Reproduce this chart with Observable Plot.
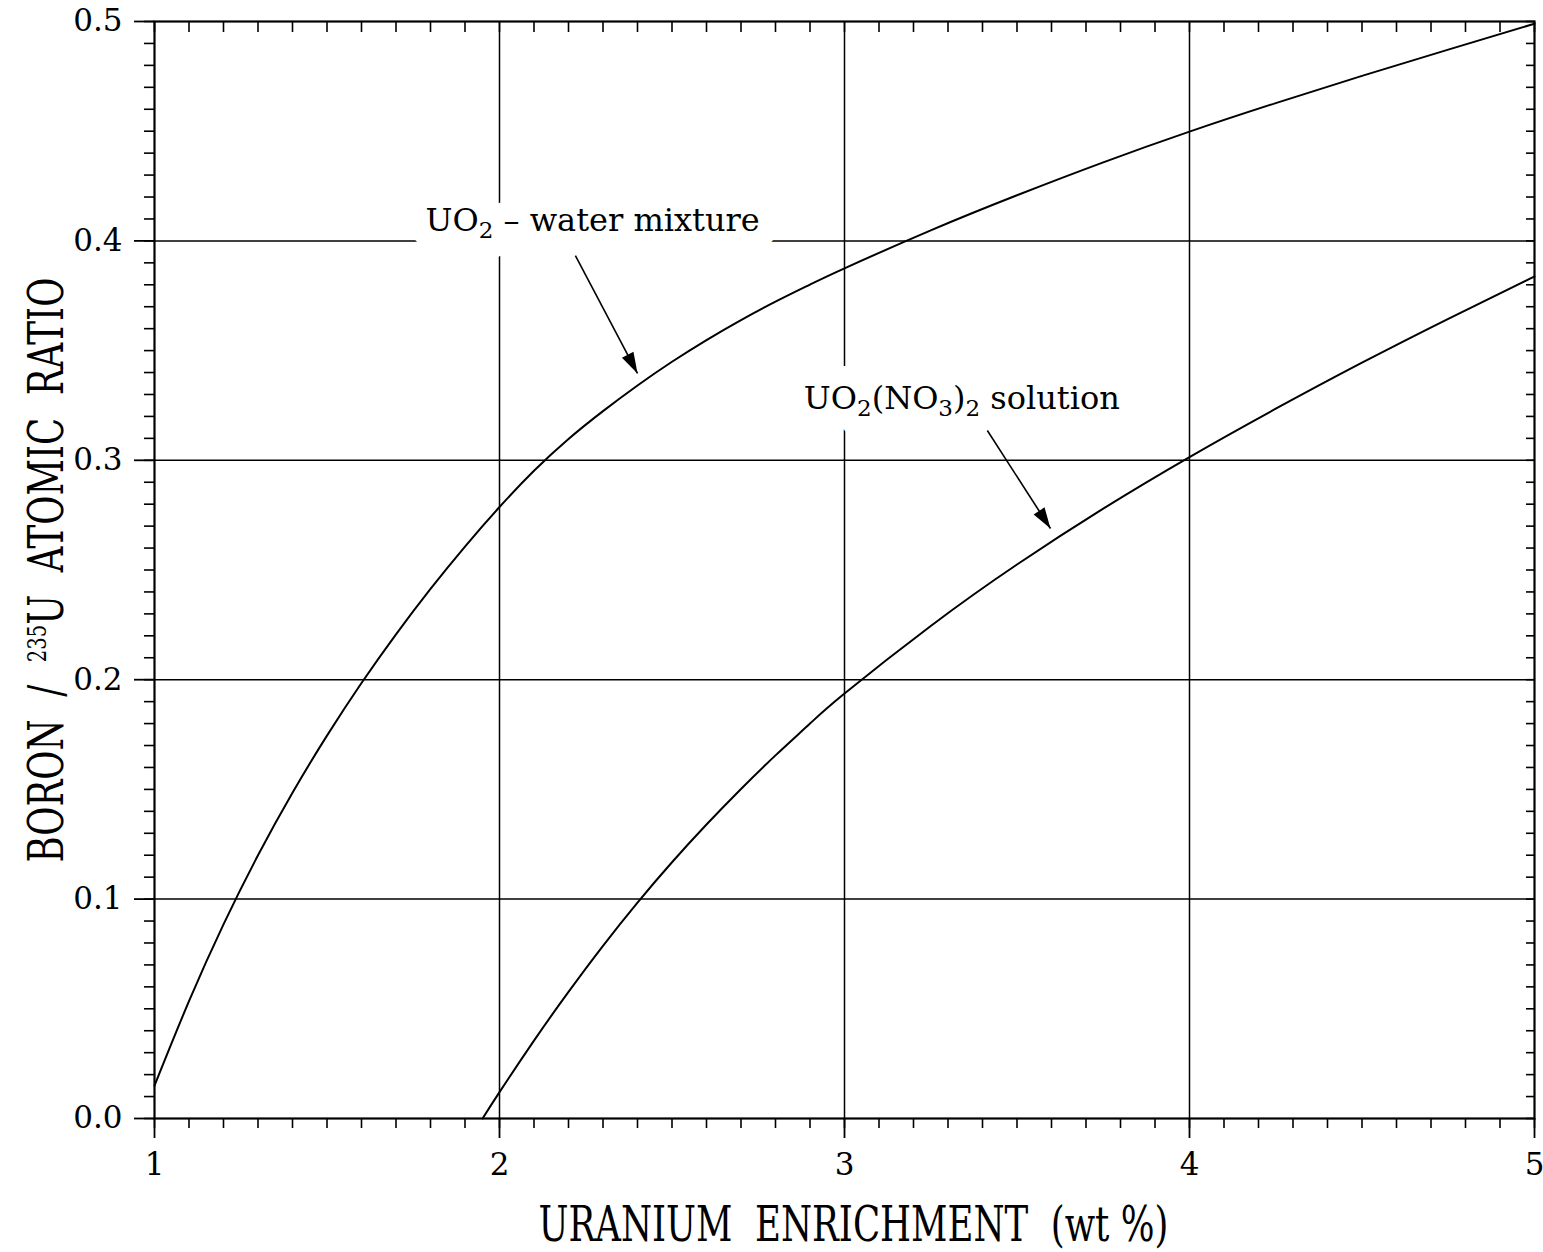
<!DOCTYPE html>
<html><head><meta charset="utf-8">
<script src="https://cdn.jsdelivr.net/npm/d3@7"></script>
<script src="https://cdn.jsdelivr.net/npm/@observablehq/plot@0.6"></script>
<style>body{margin:0;background:#fff} svg{display:block}</style>
</head><body><div id="chart"></div>
<script>
// ---- data ----
const waterX = [1.0, 1.1, 1.2, 1.3, 1.4, 1.5, 1.6, 1.7, 1.8, 1.9, 2.0, 2.1, 2.2, 2.3, 2.4, 2.5, 2.6, 2.7, 2.8, 2.9, 3.0, 3.25, 3.5, 3.75, 4.0, 4.25, 4.5, 4.75, 5.0];
const waterY = [0.015, 0.0535, 0.0885, 0.120, 0.1485, 0.1745, 0.1985, 0.2207, 0.2414, 0.2607, 0.2787, 0.2952, 0.3097, 0.3224, 0.3341, 0.3449, 0.3548, 0.3639, 0.3723, 0.3801, 0.3875, 0.4048, 0.4208, 0.4358, 0.4498, 0.4628, 0.4752, 0.4872, 0.4990];
const nitrateX = [1.951, 2.0, 2.1, 2.2, 2.3, 2.4, 2.5, 2.6, 2.7, 2.8, 2.9, 3.0, 3.25, 3.5, 3.75, 4.0, 4.25, 4.5, 4.75, 5.0];
const nitrateY = [0.0, 0.012, 0.0355, 0.0577, 0.0787, 0.0984, 0.1168, 0.134, 0.1502, 0.1655, 0.18, 0.1937, 0.2245, 0.2525, 0.278, 0.3015, 0.3235, 0.3445, 0.3645, 0.3838];

const xMajorTicks = [1, 2, 3, 4, 5];
const yMajorTicks = [0, 0.1, 0.2, 0.3, 0.4, 0.5];
const xGridLines = [2, 3, 4];
const yGridLines = [0.1, 0.2, 0.3, 0.4];

const xTitle = "URANIUM  ENRICHMENT  (wt %)";
const yTitle = "BORON  /  ²³⁵U  ATOMIC  RATIO";

const labelText = ["UO₂ – water mixture", "UO₂(NO₃)₂ solution"];
const labelX = [2.27, 3.34];
const labelY = [0.409, 0.328];
const arrowX1 = [2.22, 3.414];
const arrowY1 = [0.3933, 0.3136];
const arrowX2 = [2.40, 3.597];
const arrowY2 = [0.3396, 0.2689];

// ---- build tables ----
const water = waterX.map((x, i) => ({x, y: waterY[i]}));
const nitrate = nitrateX.map((x, i) => ({x, y: nitrateY[i]}));
const xMinor = d3.range(10, 51).map(d => d / 10);
const yMinor = d3.range(0, 51).map(d => d / 100);

const W = 1543, H = 1252;
const mL = 154, mR = 9, mT = 21, mB = 134;
const xs = d3.scaleLinear([1, 5], [mL, W - mR]);
const ys = d3.scaleLinear([0, 0.5], [H - mB, mT]);
const labels = labelText.map((t, i) => ({t, x: labelX[i], y: labelY[i]}));
const arrows = arrowX1.map((x1, i) => {
  const x2 = arrowX2[i], y1 = arrowY1[i], y2 = arrowY2[i];
  const ang = Math.atan2(xs(x2) - xs(x1), -(ys(y2) - ys(y1))) * 180 / Math.PI;
  return {x1, y1, x2, y2, ang};
});
const head = {draw(ctx) { ctx.moveTo(0, 0); ctx.lineTo(-6.5, 21); ctx.lineTo(6.5, 21); ctx.closePath(); }};

const plot = Plot.plot({
  width: W, height: H,
  marginLeft: mL, marginRight: mR, marginTop: mT, marginBottom: mB,
  style: {fontFamily: "'DejaVu Serif', serif", fontSize: "31px", color: "#000", background: "#fff"},
  x: {domain: [1, 5]},
  y: {domain: [0, 0.5]},
  marks: [
    Plot.gridX(xGridLines, {stroke: "#000", strokeOpacity: 1, strokeWidth: 1.5}),
    Plot.gridY(yGridLines, {stroke: "#000", strokeOpacity: 1, strokeWidth: 1.5}),
    Plot.line(water, {x: "x", y: "y", curve: "natural", stroke: "#000", strokeWidth: 2}),
    Plot.line(nitrate, {x: "x", y: "y", curve: "natural", stroke: "#000", strokeWidth: 2}),
    Plot.text(labels, {x: "x", y: "y", text: "t", fontSize: 32, fill: "#fff", stroke: "#fff", strokeWidth: 40, strokeLinejoin: "round"}),
    Plot.text(labels, {x: "x", y: "y", text: "t", fontSize: 32, fill: "#000"}),
    Plot.link(arrows, {x1: "x1", y1: "y1", x2: "x2", y2: "y2", stroke: "#000", strokeWidth: 1.6}),
    Plot.dot(arrows, {x: "x2", y: "y2", symbol: head, rotate: "ang", fill: "#000", stroke: null, r: 5}),
    Plot.frame({stroke: "#000", strokeWidth: 2.2}),
    Plot.axisX(xMajorTicks, {anchor: "bottom", tickSize: 20, tickPadding: 14, strokeWidth: 1.8, tickFormat: d => String(d), label: null}),
    Plot.axisX(xMinor, {anchor: "bottom", tickSize: 10, strokeWidth: 1.6, tickFormat: () => "", label: null}),
    Plot.axisX(xMinor, {anchor: "top", tickSize: -10, strokeWidth: 1.6, tickFormat: () => "", label: null}),
    Plot.axisY(yMajorTicks, {anchor: "left", tickSize: 20, tickPadding: 12, strokeWidth: 1.8, tickFormat: d3.format(".1f"), label: null}),
    Plot.axisY(yMinor, {anchor: "left", tickSize: 10, strokeWidth: 1.6, tickFormat: () => "", label: null}),
    Plot.axisY(yMinor, {anchor: "right", tickSize: -9, strokeWidth: 1.6, tickFormat: () => "", label: null}),
    Plot.text([xTitle], {frameAnchor: "bottom", dy: 122, dx: 7, lineAnchor: "bottom", textAnchor: "middle", text: d => d, fontSize: 48, fill: "#000"}),
    Plot.text([yTitle], {frameAnchor: "left", dx: -107, rotate: -90, textAnchor: "middle", lineAnchor: "middle", text: d => d, fontSize: 48, fill: "#000"})
  ]
});
document.getElementById("chart").appendChild(plot);

// ---- typographic post-processing: sub/superscripts and condensed titles ----
const NS = "http://www.w3.org/2000/svg";
const SUB = "₀₁₂₃₄₅₆₇₈₉", SUP = "⁰¹²³⁴⁵⁶⁷⁸⁹";
function richify(el, fs, subScale, subShift, supScale, supShift) {
  const s = el.textContent;
  const runs = [];
  for (const ch of s) {
    let kind = 0, c = ch;
    if (SUB.includes(ch)) { kind = 1; c = String(SUB.indexOf(ch)); }
    else if (SUP.includes(ch)) { kind = 2; c = String(SUP.indexOf(ch)); }
    if (runs.length && runs[runs.length - 1].kind === kind) runs[runs.length - 1].t += c;
    else runs.push({kind, t: c});
  }
  el.textContent = "";
  let cur = 0;
  for (const r of runs) {
    const shift = r.kind === 1 ? subShift : r.kind === 2 ? -supShift : 0;
    const ts = document.createElementNS(NS, "tspan");
    ts.textContent = r.t;
    if (r.kind === 1) ts.setAttribute("font-size", fs * subScale);
    if (r.kind === 2) ts.setAttribute("font-size", fs * supScale);
    if (shift !== cur) ts.setAttribute("dy", shift - cur);
    cur = shift;
    el.appendChild(ts);
  }
}
// squeeze a text along its run direction by wrapping it in a scaled group
function condense(el, target, vertical) {
  const r = el.getBoundingClientRect();
  const p = plot.getBoundingClientRect();
  const g = document.createElementNS(NS, "g");
  el.parentNode.insertBefore(g, el);
  g.appendChild(el);
  if (vertical) {
    const cy = r.top - p.top + r.height / 2, s = target / r.height;
    g.setAttribute("transform", `translate(0,${cy}) scale(1,${s}) translate(0,${-cy})`);
  } else {
    const cx = r.left - p.left + r.width / 2, s = target / r.width;
    g.setAttribute("transform", `translate(${cx},0) scale(${s},1) translate(${-cx},0)`);
  }
}
const svg = d3.select(plot);
svg.selectAll("text").filter(function() { return labelText.includes(this.textContent); })
  .each(function() { richify(this, 32, 0.72, 7, 0.6, 14); });
svg.selectAll("text").filter(function() { return this.textContent === yTitle; })
  .each(function() { richify(this, 48, 0.72, 8, 0.55, 17); condense(this, 585, true); });
svg.selectAll("text").filter(function() { return this.textContent === xTitle; })
  .each(function() { condense(this, 630, false); });
</script>
</body></html>
